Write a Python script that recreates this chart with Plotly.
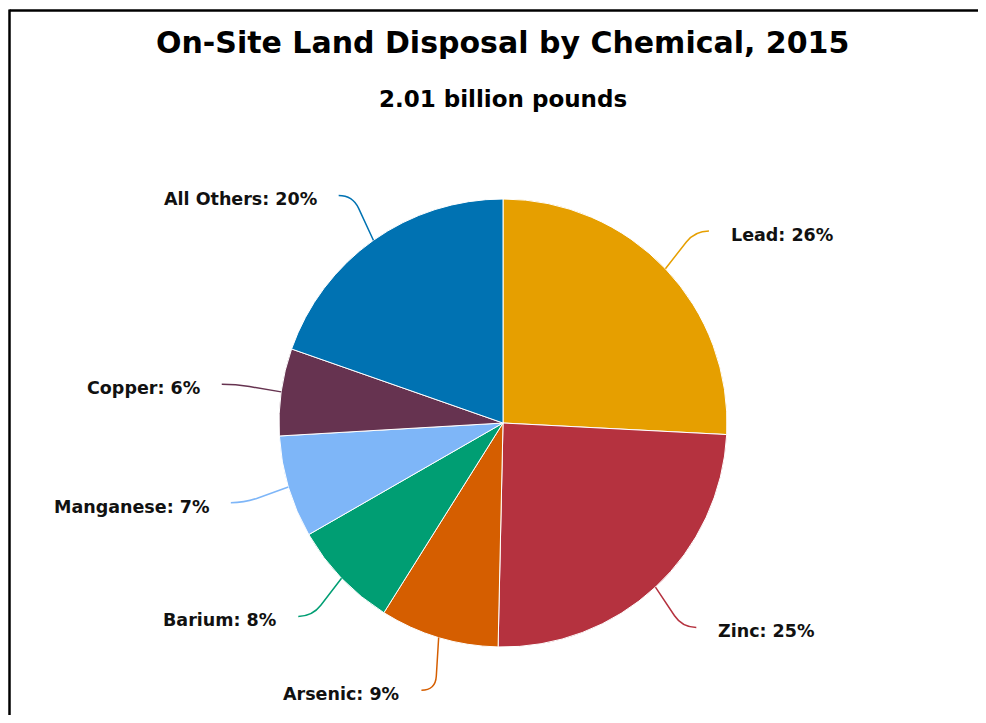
import math
import plotly.graph_objects as go

# ---- data ----
chemicals = ["Lead", "Zinc", "Arsenic", "Barium", "Manganese", "Copper", "All Others"]
shares = [25.9, 24.6, 8.6, 7.8, 7.4, 6.3, 19.7]
colors = ["#E69F00", "#B5323F", "#D55E00", "#009E73", "#7EB6F8", "#663350", "#0072B2"]
title_text = "On-Site Land Disposal by Chemical, 2015"
subtitle_text = "2.01 billion pounds"

# ---- layout geometry (pixels of the 986x723 window) ----
W, H = 986, 723
OFF = 8  # default page body margin
FW, FH = W - 2 * OFF, H - 2 * OFF
CX, CY, R = 503, 423, 224
FONT = "DejaVu Sans"


def px(x):
    return (x - OFF) / FW


def py(y):
    return 1 - (y - OFF) / FH


fig = go.Figure(go.Pie(
    labels=chemicals,
    values=shares,
    sort=False,
    direction="clockwise",
    rotation=0,
    marker=dict(colors=colors, line=dict(color="white", width=1)),
    textinfo="none",
    hoverinfo="label+percent",
    domain=dict(x=[px(CX - R), px(CX + R)], y=[py(CY + R), py(CY - R)]),
    showlegend=False,
))

total = sum(shares)
annotations = []
shapes = []
cum = 0.0
for name, v, c in zip(chemicals, shares, colors):
    mid = (cum + v / 2) / total * 2 * math.pi
    cum += v
    s, co = math.sin(mid), math.cos(mid)
    sgn = 1 if s >= 0 else -1
    p0 = (CX + R * s, CY - R * co)
    e = (CX + (R + 60) * s, CY - (R + 55) * co)
    h = (e[0] - sgn * 14, e[1])
    dx, dy = p0[0] - h[0], p0[1] - h[1]
    d = math.hypot(dx, dy)
    b = (h[0] + dx * 14 / d, h[1] + dy * 14 / d)
    path = (f"M {px(p0[0])},{py(p0[1])} L {px(b[0])},{py(b[1])} "
            f"Q {px(h[0])},{py(h[1])} {px(e[0])},{py(e[1])}")
    shapes.append(dict(type="path", xref="paper", yref="paper", path=path,
                       line=dict(color=c, width=1.5)))
    pct = round(v / total * 100)
    annotations.append(dict(
        x=px(e[0] + sgn * 20), y=py(e[1] + 4), xref="paper", yref="paper",
        text=f"{name}: {pct}%", showarrow=False,
        xanchor="left" if sgn > 0 else "right", yanchor="middle",
        font=dict(family=FONT, size=17.5, color="#111", weight="bold"),
    ))

annotations.append(dict(
    x=px(CX), y=py(42), xref="paper", yref="paper", text=title_text,
    showarrow=False, xanchor="center", yanchor="middle",
    font=dict(family=FONT, size=30, color="#000", weight="bold"),
))
annotations.append(dict(
    x=px(CX), y=py(99), xref="paper", yref="paper", text=subtitle_text,
    showarrow=False, xanchor="center", yanchor="middle",
    font=dict(family=FONT, size=23, color="#000", weight="bold"),
))

# outer frame (left and top edges visible)
shapes.append(dict(type="line", xref="paper", yref="paper",
                   x0=px(9.5), x1=px(9.5), y0=0, y1=py(9.5),
                   line=dict(color="black", width=2.5), layer="above"))
shapes.append(dict(type="line", xref="paper", yref="paper",
                   x0=px(9.5), x1=1, y0=py(10.5), y1=py(10.5),
                   line=dict(color="black", width=2.5), layer="above"))

fig.update_layout(
    width=FW, height=FH,
    margin=dict(l=0, r=0, t=0, b=0),
    paper_bgcolor="white",
    plot_bgcolor="white",
    annotations=annotations,
    shapes=shapes,
)

fig.write_html("out.html", config={"displayModeBar": False})
